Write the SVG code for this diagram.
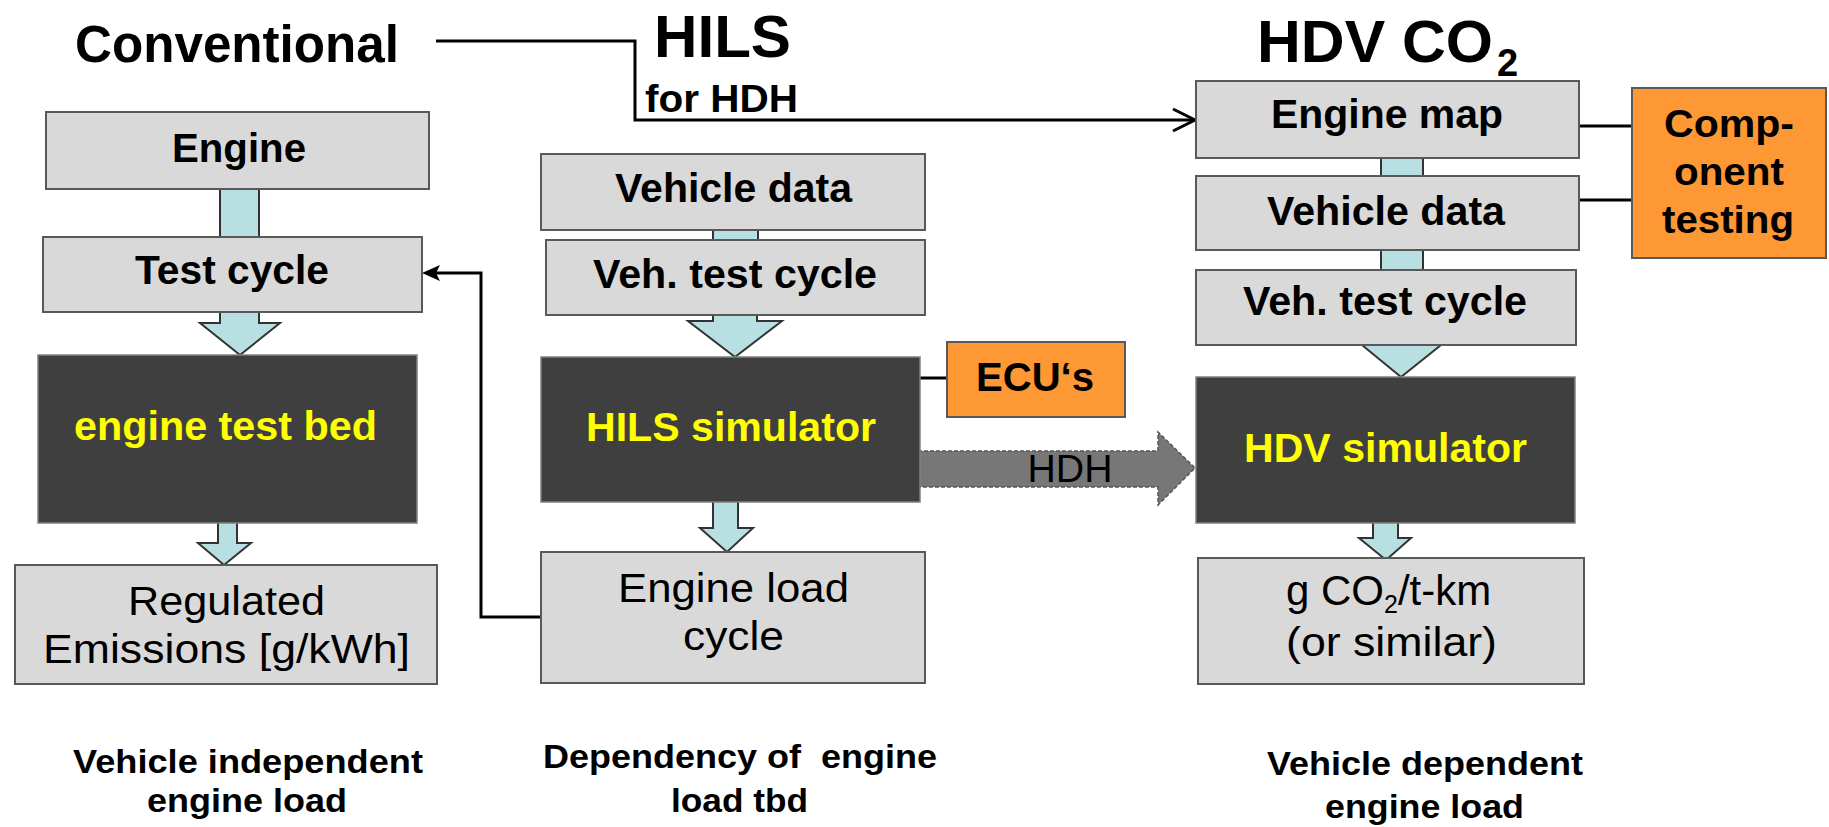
<svg xmlns="http://www.w3.org/2000/svg" width="1829" height="827" viewBox="0 0 1829 827">
<style>
text{font-family:"Liberation Sans",Arial,sans-serif;fill:#000;text-anchor:middle}
.b{font-weight:bold}
.n{font-weight:normal}
.lt{fill:#d9d9d9;stroke:#595959;stroke-width:2}
.dk{fill:#3f3f3f;stroke:#808080;stroke-width:1.5}
.or{fill:#fd9834;stroke:#595959;stroke-width:2}
.ba{fill:#b8dfe1;stroke:#333;stroke-width:2;stroke-linejoin:miter}
.ln{fill:none;stroke:#000;stroke-width:3}
.y{fill:#ffff00}
.pre{white-space:pre}
</style>
<rect width="1829" height="827" fill="#fff"/>
<g id="connectors">
  <rect class="ba" x="220" y="188" width="39" height="50"/>
  <polygon class="ba" points="220,305 259,305 259,323 280,323 240,355 200,323 220,323"/>
  <polygon class="ba" points="218,515 237,515 237,543 251,543 224,565 198,543 218,543"/>
  <rect class="ba" x="713" y="228" width="45" height="14"/>
  <polygon class="ba" points="713,310 757,310 757,321 782,321 735,357 688,321 713,321"/>
  <polygon class="ba" points="713,495 738,495 738,528 753,528 727,552 700,528 713,528"/>
  <rect class="ba" x="1381" y="156" width="42" height="22"/>
  <rect class="ba" x="1381" y="248" width="42" height="24"/>
  <polygon class="ba" points="1381,338 1421,338 1421,345 1441,345 1401,377 1362,345 1381,345"/>
  <polygon class="ba" points="1373,515 1398,515 1398,538 1411,538 1386,560 1359,538 1373,538"/>
  <polygon points="912,451 1158,451 1158,432 1195,468 1158,505 1158,487 912,487" fill="#777" stroke="#555" stroke-width="1.5" stroke-dasharray="4 2"/>
  <text class="n" x="1070" y="482" font-size="38" textLength="85" lengthAdjust="spacingAndGlyphs">HDH</text>
  <polyline class="ln" points="436,41 635,41 635,120 1192,120"/>
  <polyline class="ln" points="1173,109 1195,120 1173,131"/>
  <polyline class="ln" points="541,617 481,617 481,273 435,273"/>
  <polygon points="422,273 440,265 436,273 440,281" fill="#000"/>
  <line class="ln" x1="918" y1="378" x2="948" y2="378"/>
  <line class="ln" x1="1578" y1="126" x2="1633" y2="126"/>
  <line class="ln" x1="1578" y1="200" x2="1633" y2="200"/>
</g>
<g id="titles">
  <text class="b" x="237" y="62" font-size="51" textLength="324" lengthAdjust="spacingAndGlyphs">Conventional</text>
  <text class="b" x="722.5" y="57" font-size="59" textLength="137" lengthAdjust="spacingAndGlyphs">HILS</text>
  <text class="b" x="721.5" y="112" font-size="38" textLength="153" lengthAdjust="spacingAndGlyphs">for HDH</text>
  <text class="b" x="1257" y="62" font-size="59" style="text-anchor:start"><tspan textLength="236" lengthAdjust="spacingAndGlyphs">HDV CO</tspan><tspan x="1497" dy="14" font-size="38">2</tspan></text>
</g>
<g id="engine">
  <rect class="lt" x="46" y="112" width="383" height="77"/>
  <text class="b" x="239" y="162" font-size="41" textLength="134" lengthAdjust="spacingAndGlyphs">Engine</text>
</g>
<g id="test-cycle">
  <rect class="lt" x="43" y="237" width="379" height="75"/>
  <text class="b" x="232" y="284" font-size="41" textLength="194" lengthAdjust="spacingAndGlyphs">Test cycle</text>
</g>
<g id="engine-test-bed">
  <rect class="dk" x="38" y="355" width="379" height="168"/>
  <text class="b y" x="225.5" y="440" font-size="40" textLength="303" lengthAdjust="spacingAndGlyphs">engine test bed</text>
</g>
<g id="regulated-emissions">
  <rect class="lt" x="15" y="565" width="422" height="119"/>
  <text class="n" x="226.5" y="615" font-size="40" textLength="197" lengthAdjust="spacingAndGlyphs">Regulated</text>
  <text class="n" x="226.5" y="663" font-size="40" textLength="367" lengthAdjust="spacingAndGlyphs">Emissions [g/kWh]</text>
</g>
<g id="label-left">
  <text class="b" x="248" y="773" font-size="33" textLength="350" lengthAdjust="spacingAndGlyphs">Vehicle independent</text>
  <text class="b" x="247" y="812" font-size="33" textLength="200" lengthAdjust="spacingAndGlyphs">engine load</text>
</g>
<g id="hils-vehicle-data">
  <rect class="lt" x="541" y="154" width="384" height="76"/>
  <text class="b" x="733.5" y="202" font-size="40" textLength="237" lengthAdjust="spacingAndGlyphs">Vehicle data</text>
</g>
<g id="hils-veh-test-cycle">
  <rect class="lt" x="546" y="240" width="379" height="75"/>
  <text class="b" x="735" y="288" font-size="40" textLength="284" lengthAdjust="spacingAndGlyphs">Veh. test cycle</text>
</g>
<g id="hils-simulator">
  <rect class="dk" x="541" y="357" width="379" height="145"/>
  <text class="b y" x="731" y="441" font-size="40" textLength="290" lengthAdjust="spacingAndGlyphs">HILS simulator</text>
</g>
<g id="ecus">
  <rect class="or" x="947" y="342" width="178" height="75"/>
  <text class="b" x="1035" y="391" font-size="40" textLength="118" lengthAdjust="spacingAndGlyphs">ECU‘s</text>
</g>
<g id="engine-load-cycle">
  <rect class="lt" x="541" y="552" width="384" height="131"/>
  <text class="n" x="733.5" y="602" font-size="40" textLength="231" lengthAdjust="spacingAndGlyphs">Engine load</text>
  <text class="n" x="733.5" y="650" font-size="40" textLength="101" lengthAdjust="spacingAndGlyphs">cycle</text>
</g>
<g id="label-middle">
  <text class="b pre" x="740" y="768" font-size="33" textLength="394" lengthAdjust="spacingAndGlyphs">Dependency of  engine</text>
  <text class="b" x="739.5" y="812" font-size="33" textLength="137" lengthAdjust="spacingAndGlyphs">load tbd</text>
</g>
<g id="engine-map">
  <rect class="lt" x="1196" y="81" width="383" height="77"/>
  <text class="b" x="1387" y="128" font-size="40" textLength="232" lengthAdjust="spacingAndGlyphs">Engine map</text>
</g>
<g id="hdv-vehicle-data">
  <rect class="lt" x="1196" y="176" width="383" height="74"/>
  <text class="b" x="1386" y="225" font-size="40" textLength="238" lengthAdjust="spacingAndGlyphs">Vehicle data</text>
</g>
<g id="hdv-veh-test-cycle">
  <rect class="lt" x="1196" y="270" width="380" height="75"/>
  <text class="b" x="1385" y="315" font-size="40" textLength="284" lengthAdjust="spacingAndGlyphs">Veh. test cycle</text>
</g>
<g id="component-testing">
  <rect class="or" x="1632" y="88" width="194" height="170"/>
  <text class="b" x="1729" y="137" font-size="39" textLength="130" lengthAdjust="spacingAndGlyphs">Comp-</text>
  <text class="b" x="1729" y="185" font-size="39" textLength="110" lengthAdjust="spacingAndGlyphs">onent</text>
  <text class="b" x="1728" y="233" font-size="39" textLength="132" lengthAdjust="spacingAndGlyphs">testing</text>
</g>
<g id="hdv-simulator">
  <rect class="dk" x="1196" y="377" width="379" height="146"/>
  <text class="b y" x="1385.5" y="462" font-size="40" textLength="283" lengthAdjust="spacingAndGlyphs">HDV simulator</text>
</g>
<g id="gco2">
  <rect class="lt" x="1198" y="558" width="386" height="126"/>
  <text class="n" x="1286" y="605" font-size="42" style="text-anchor:start">g CO<tspan font-size="25" dy="8">2</tspan><tspan dy="-8">/t-km</tspan></text>
  <text class="n" x="1391.5" y="656" font-size="40" textLength="211" lengthAdjust="spacingAndGlyphs">(or similar)</text>
</g>
<g id="label-right">
  <text class="b" x="1425" y="775" font-size="33" textLength="316" lengthAdjust="spacingAndGlyphs">Vehicle dependent</text>
  <text class="b" x="1424.5" y="818" font-size="33" textLength="199" lengthAdjust="spacingAndGlyphs">engine load</text>
</g>
</svg>
